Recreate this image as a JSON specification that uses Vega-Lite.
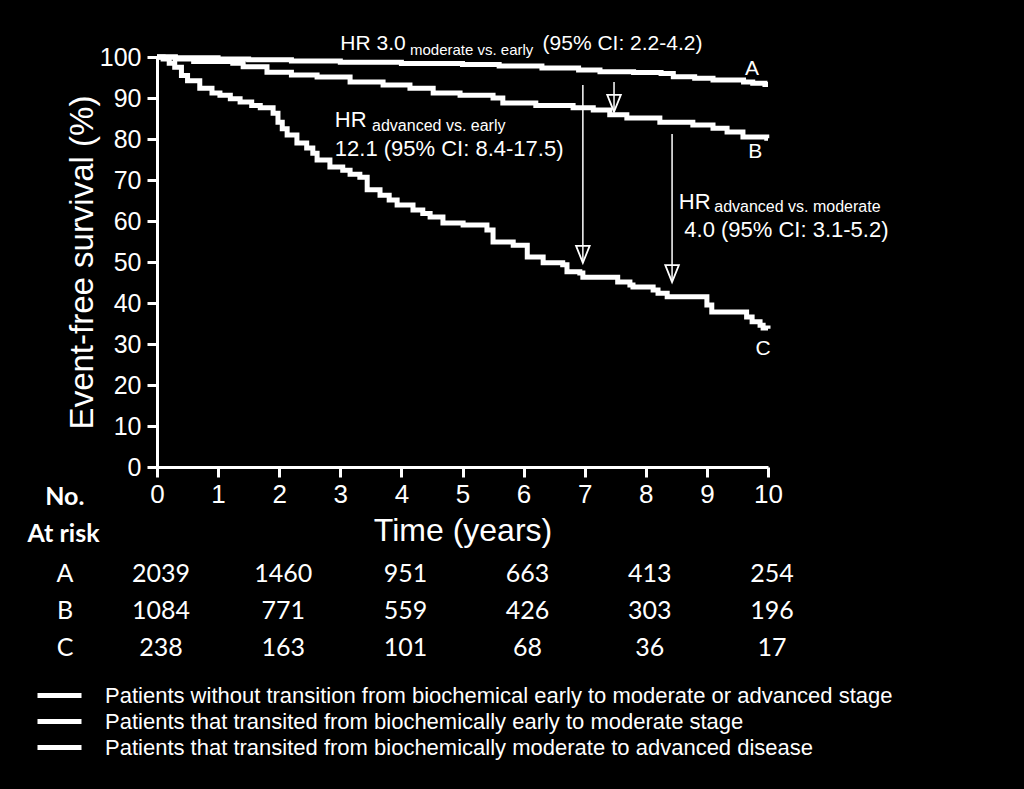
{
  "$schema": "https://vega.github.io/schema/vega-lite/v6.json",
  "width": 611,
  "height": 410,
  "autosize": {"type": "none"},
  "padding": {"left": 157, "top": 57, "right": 256, "bottom": 322},
  "background": "black",
  "config": {"view": {"stroke": null}, "font": "Liberation Sans"},
  "datasets": {
    "curves": [
      {"group": "A", "t": 0, "s": 100}, {"group": "A", "t": 0.3, "s": 99.8}, {"group": "A", "t": 1.0, "s": 99.5}, {"group": "A", "t": 1.5, "s": 99.3}, {"group": "A", "t": 2.2, "s": 99.0}, {"group": "A", "t": 3.0, "s": 98.7}, {"group": "A", "t": 4.0, "s": 98.4}, {"group": "A", "t": 5.0, "s": 98.2}, {"group": "A", "t": 5.6, "s": 97.8}, {"group": "A", "t": 6.3, "s": 97.3}, {"group": "A", "t": 6.9, "s": 96.8}, {"group": "A", "t": 7.25, "s": 96.4}, {"group": "A", "t": 7.8, "s": 96.2}, {"group": "A", "t": 8.25, "s": 96.0}, {"group": "A", "t": 8.45, "s": 95.2}, {"group": "A", "t": 8.8, "s": 94.8}, {"group": "A", "t": 9.1, "s": 94.4}, {"group": "A", "t": 9.6, "s": 93.9}, {"group": "A", "t": 9.75, "s": 93.6}, {"group": "A", "t": 9.95, "s": 93.3}, {"group": "A", "t": 10.0, "s": 93.3},
      {"group": "B", "t": 0, "s": 100}, {"group": "B", "t": 0.3, "s": 99.5}, {"group": "B", "t": 0.6, "s": 98.9}, {"group": "B", "t": 1.24, "s": 98.5}, {"group": "B", "t": 1.41, "s": 97.6}, {"group": "B", "t": 1.8, "s": 96.3}, {"group": "B", "t": 2.2, "s": 95.6}, {"group": "B", "t": 2.62, "s": 95.1}, {"group": "B", "t": 3.16, "s": 93.9}, {"group": "B", "t": 3.7, "s": 93.2}, {"group": "B", "t": 4.14, "s": 92.4}, {"group": "B", "t": 4.52, "s": 91.2}, {"group": "B", "t": 4.96, "s": 90.7}, {"group": "B", "t": 5.5, "s": 90.0}, {"group": "B", "t": 5.66, "s": 88.8}, {"group": "B", "t": 6.2, "s": 88.2}, {"group": "B", "t": 6.81, "s": 87.6}, {"group": "B", "t": 7.14, "s": 87.1}, {"group": "B", "t": 7.41, "s": 85.9}, {"group": "B", "t": 7.69, "s": 85.1}, {"group": "B", "t": 8.23, "s": 84.1}, {"group": "B", "t": 8.77, "s": 83.4}, {"group": "B", "t": 9.1, "s": 82.6}, {"group": "B", "t": 9.33, "s": 81.7}, {"group": "B", "t": 9.59, "s": 80.5}, {"group": "B", "t": 9.98, "s": 80.2}, {"group": "B", "t": 10.0, "s": 80.2},
      {"group": "C", "t": 0, "s": 100}, {"group": "C", "t": 0.1, "s": 99.5}, {"group": "C", "t": 0.2, "s": 98.5}, {"group": "C", "t": 0.29, "s": 97.5}, {"group": "C", "t": 0.4, "s": 95.5}, {"group": "C", "t": 0.5, "s": 94.2}, {"group": "C", "t": 0.7, "s": 92.4}, {"group": "C", "t": 0.9, "s": 91.2}, {"group": "C", "t": 1.03, "s": 90.7}, {"group": "C", "t": 1.2, "s": 89.8}, {"group": "C", "t": 1.36, "s": 89.0}, {"group": "C", "t": 1.55, "s": 88.2}, {"group": "C", "t": 1.69, "s": 87.6}, {"group": "C", "t": 1.9, "s": 86.3}, {"group": "C", "t": 1.98, "s": 84.1}, {"group": "C", "t": 2.05, "s": 82.5}, {"group": "C", "t": 2.13, "s": 81.0}, {"group": "C", "t": 2.29, "s": 79.0}, {"group": "C", "t": 2.45, "s": 77.8}, {"group": "C", "t": 2.55, "s": 76.5}, {"group": "C", "t": 2.62, "s": 74.9}, {"group": "C", "t": 2.83, "s": 73.2}, {"group": "C", "t": 3.04, "s": 72.4}, {"group": "C", "t": 3.16, "s": 71.4}, {"group": "C", "t": 3.32, "s": 70.7}, {"group": "C", "t": 3.44, "s": 67.6}, {"group": "C", "t": 3.65, "s": 66.3}, {"group": "C", "t": 3.8, "s": 65.1}, {"group": "C", "t": 3.93, "s": 63.9}, {"group": "C", "t": 4.19, "s": 62.7}, {"group": "C", "t": 4.35, "s": 61.8}, {"group": "C", "t": 4.47, "s": 61.0}, {"group": "C", "t": 4.68, "s": 59.5}, {"group": "C", "t": 5.01, "s": 59.0}, {"group": "C", "t": 5.4, "s": 57.8}, {"group": "C", "t": 5.5, "s": 54.9}, {"group": "C", "t": 5.83, "s": 54.1}, {"group": "C", "t": 6.06, "s": 51.2}, {"group": "C", "t": 6.32, "s": 49.8}, {"group": "C", "t": 6.64, "s": 49.3}, {"group": "C", "t": 6.71, "s": 47.6}, {"group": "C", "t": 6.92, "s": 47.3}, {"group": "C", "t": 6.97, "s": 46.3}, {"group": "C", "t": 7.46, "s": 46.3}, {"group": "C", "t": 7.54, "s": 45.1}, {"group": "C", "t": 7.74, "s": 44.4}, {"group": "C", "t": 7.79, "s": 43.9}, {"group": "C", "t": 8.12, "s": 43.2}, {"group": "C", "t": 8.2, "s": 42.4}, {"group": "C", "t": 8.35, "s": 41.5}, {"group": "C", "t": 8.94, "s": 41.5}, {"group": "C", "t": 9.0, "s": 39.5}, {"group": "C", "t": 9.08, "s": 37.8}, {"group": "C", "t": 9.59, "s": 37.8}, {"group": "C", "t": 9.65, "s": 36.6}, {"group": "C", "t": 9.74, "s": 35.4}, {"group": "C", "t": 9.87, "s": 34.6}, {"group": "C", "t": 9.92, "s": 33.9}, {"group": "C", "t": 10.0, "s": 33.7}
    ],
    "arrows": [
      {"t": 6.97, "s": 49.8, "s2": 93.2},
      {"t": 7.48, "s": 86.6, "s2": 93.9},
      {"t": 8.43, "s": 45.1, "s2": 81.2}
    ],
    "topnotes": [
      {"t": 3.0, "s": 101.7, "label": "HR 3.0"},
      {"t": 6.31, "s": 101.7, "label": "(95% CI: 2.2-4.2)"}
    ],
    "topsub": [
      {"t": 4.14, "s": 100.5, "label": "moderate vs. early"}
    ],
    "notes": [
      {"t": 2.91, "s": 82.9, "label": "HR"},
      {"t": 2.91, "s": 75.9, "label": "12.1 (95% CI: 8.4-17.5)"},
      {"t": 8.54, "s": 62.9, "label": "HR"},
      {"t": 8.63, "s": 56.1, "label": "4.0 (95% CI: 3.1-5.2)"}
    ],
    "subnotes": [
      {"t": 3.52, "s": 82.0, "label": "advanced vs. early"},
      {"t": 9.12, "s": 62.2, "label": "advanced vs. moderate"}
    ],
    "curvelabels": [
      {"t": 9.74, "s": 95.6, "label": "A"},
      {"t": 9.79, "s": 75.4, "label": "B"},
      {"t": 9.92, "s": 27.3, "label": "C"}
    ],
    "riskhead": [
      {"t": -1.51, "s": -7.3, "label": "No."},
      {"t": -1.53, "s": -16.3, "label": "At risk"}
    ],
    "risk": [
      {"t": -1.57, "s": -26.1, "label": "A"}, {"t": 0, "s": -26.1, "label": "2039"}, {"t": 2, "s": -26.1, "label": "1460"}, {"t": 4, "s": -26.1, "label": "951"}, {"t": 6, "s": -26.1, "label": "663"}, {"t": 8, "s": -26.1, "label": "413"}, {"t": 10, "s": -26.1, "label": "254"},
      {"t": -1.57, "s": -35.1, "label": "B"}, {"t": 0, "s": -35.1, "label": "1084"}, {"t": 2, "s": -35.1, "label": "771"}, {"t": 4, "s": -35.1, "label": "559"}, {"t": 6, "s": -35.1, "label": "426"}, {"t": 8, "s": -35.1, "label": "303"}, {"t": 10, "s": -35.1, "label": "196"},
      {"t": -1.57, "s": -44.1, "label": "C"}, {"t": 0, "s": -44.1, "label": "238"}, {"t": 2, "s": -44.1, "label": "163"}, {"t": 4, "s": -44.1, "label": "101"}, {"t": 6, "s": -44.1, "label": "68"}, {"t": 8, "s": -44.1, "label": "36"}, {"t": 10, "s": -44.1, "label": "17"}
    ]
  },
  "encoding": {
    "x": {
      "field": "t", "type": "quantitative",
      "scale": {"domain": [0, 10], "nice": false, "zero": false},
      "axis": {
        "title": "Time (years)", "values": [0, 1, 2, 3, 4, 5, 6, 7, 8, 9, 10], "grid": false,
        "domainColor": "white", "domainWidth": 3, "tickColor": "white", "tickWidth": 3, "tickSize": 10,
        "labelColor": "white", "labelFontSize": 26, "labelFont": "Liberation Sans", "labelPadding": 4,
        "labelFlush": false, "labelOverlap": false,
        "titleColor": "white", "titleFontSize": 32, "titleFont": "Liberation Sans", "titleFontWeight": "normal", "titlePadding": 8
      }
    },
    "y": {
      "field": "s", "type": "quantitative",
      "scale": {"domain": [0, 100], "nice": false, "zero": false},
      "axis": {
        "title": "Event-free survival (%)", "values": [0, 10, 20, 30, 40, 50, 60, 70, 80, 90, 100], "grid": false,
        "domainColor": "white", "domainWidth": 3, "tickColor": "white", "tickWidth": 3, "tickSize": 10,
        "labelColor": "white", "labelFontSize": 25, "labelFont": "Liberation Sans", "labelPadding": 6,
        "labelFlush": false, "labelOverlap": false,
        "titleColor": "white", "titleFontSize": 33, "titleFont": "Liberation Sans", "titleFontWeight": "normal", "titlePadding": 0
      }
    }
  },
  "layer": [
    {
      "data": {"name": "curves"},
      "mark": {"type": "line", "interpolate": "step-after", "strokeWidth": 5},
      "encoding": {
        "color": {
          "field": "group", "type": "nominal",
          "scale": {"domain": ["A", "B", "C"], "range": ["white", "white", "white"]},
          "legend": {
            "title": null, "orient": "none", "legendX": -111, "legendY": 625, "direction": "vertical",
            "symbolType": "M-2,0H2", "symbolSize": 484, "symbolStrokeWidth": 5, "symbolStrokeColor": "white",
            "labelColor": "white", "labelFontSize": 22, "labelFont": "Liberation Sans", "labelLimit": 1000,
            "labelOffset": 32, "rowPadding": 1,
            "labelExpr": "datum.value === 'A' ? 'Patients without transition from biochemical early to moderate or advanced stage' : datum.value === 'B' ? 'Patients that transited from biochemically early to moderate stage' : 'Patients that transited from biochemically moderate to advanced disease'"
          }
        }
      }
    },
    {
      "data": {"name": "arrows"},
      "mark": {"type": "rule", "color": "white", "strokeWidth": 1.5},
      "encoding": {"y2": {"field": "s2"}}
    },
    {
      "data": {"name": "arrows"},
      "mark": {"type": "point", "shape": "M0,0L-0.8,-2L0.8,-2Z", "size": 289, "filled": false, "stroke": "white", "strokeWidth": 1.8, "opacity": 1}
    },
    {
      "data": {"name": "topnotes"},
      "mark": {"type": "text", "align": "left", "baseline": "alphabetic", "fontSize": 21, "font": "Liberation Sans", "color": "white"},
      "encoding": {"text": {"field": "label"}}
    },
    {
      "data": {"name": "topsub"},
      "mark": {"type": "text", "align": "left", "baseline": "alphabetic", "fontSize": 15, "font": "Liberation Sans", "color": "white"},
      "encoding": {"text": {"field": "label"}}
    },
    {
      "data": {"name": "notes"},
      "mark": {"type": "text", "align": "left", "baseline": "alphabetic", "fontSize": 22, "font": "Liberation Sans", "color": "white"},
      "encoding": {"text": {"field": "label"}}
    },
    {
      "data": {"name": "subnotes"},
      "mark": {"type": "text", "align": "left", "baseline": "alphabetic", "fontSize": 16, "font": "Liberation Sans", "color": "white"},
      "encoding": {"text": {"field": "label"}}
    },
    {
      "data": {"name": "curvelabels"},
      "mark": {"type": "text", "align": "center", "baseline": "alphabetic", "fontSize": 21, "font": "Liberation Sans", "color": "white"},
      "encoding": {"text": {"field": "label"}}
    },
    {
      "data": {"name": "riskhead"},
      "mark": {"type": "text", "align": "center", "baseline": "middle", "fontSize": 25, "font": "Lato", "fontWeight": "bold", "color": "white"},
      "encoding": {"text": {"field": "label"}}
    },
    {
      "data": {"name": "risk"},
      "mark": {"type": "text", "align": "center", "baseline": "middle", "dx": 4, "fontSize": 25, "font": "Lato", "color": "white"},
      "encoding": {"text": {"field": "label"}}
    }
  ]
}
